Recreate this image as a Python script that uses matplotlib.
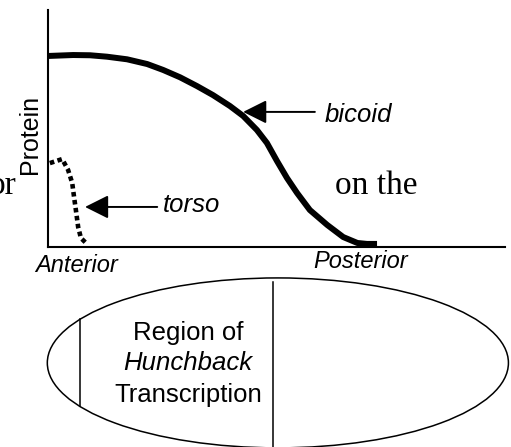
import matplotlib
matplotlib.use("Agg")
import matplotlib.pyplot as plt
import numpy as np
from matplotlib.patches import Ellipse

plt.rcParams['font.family'] = ['Liberation Sans', 'DejaVu Sans']

# position along the egg (% egg length, anterior = 0) and protein level (a.u.)
bicoid_x = [0.0, 5.5, 9.2, 12.9, 17.3, 21.7, 25.2, 28.9, 32.6, 36.1, 39.8, 42.7,
            45.7, 47.9, 50.1, 52.3, 54.5, 57.3, 61.1, 64.6, 67.7, 69.8, 72.0]
bicoid_y = [80.6, 81.0, 80.9, 80.3, 79.2, 77.2, 74.7, 71.6, 67.9, 64.1, 59.5, 55.3,
            49.4, 43.9, 36.3, 29.1, 22.8, 15.6, 9.3, 4.2, 1.7, 1.3, 1.3]

torso_x = [0.4, 3.1, 4.4, 5.3, 5.7, 6.1, 6.6, 7.2, 8.3]
torso_y = [35.4, 37.1, 32.5, 27.0, 21.1, 15.6, 8.4, 3.8, 1.7]

# hunchback transcription region (% egg length)
hb_region = [7.0, 49.2]

fig = plt.figure(figsize=(5.11, 4.47), dpi=100)
ax = fig.add_axes([48/511, 1-247/447, 457/511, 237/447])
ax.set_xlim(0, 100)
ax.set_ylim(0, 100)
for s in ['top', 'right']:
    ax.spines[s].set_visible(False)
for s in ['left', 'bottom']:
    ax.spines[s].set_linewidth(1.5)
ax.set_xticks([])
ax.set_yticks([])

ax.plot(bicoid_x, bicoid_y, color='black', lw=4.3, solid_capstyle='butt',
        solid_joinstyle='round', clip_on=False)
ax.plot(torso_x, torso_y, color='black', lw=3.3, linestyle=(0, (1, 0.75)),
        dash_capstyle='butt', clip_on=False)

arrow = dict(arrowstyle='-|>,head_length=1.0,head_width=0.5', mutation_scale=14.4,
             color='black', lw=1.4, shrinkA=0, shrinkB=0)
ax.annotate('', xy=(42.7, 57), xytext=(58.4, 57), arrowprops=arrow)
ax.text(60.6, 55.5, 'bicoid', style='italic', fontsize=18.5, va='center', ha='left')
ax.annotate('', xy=(8.1, 16.9), xytext=(23.9, 16.9), arrowprops=arrow)
ax.text(25.2, 17.7, 'torso', style='italic', fontsize=18.5, va='center', ha='left')

ax.text(-3.9, 47.3, 'Protein', rotation=90, fontsize=18, ha='center', va='center')
ax.text(-2.8, -8.0, 'Anterior', style='italic', fontsize=17, ha='left', va='center',
        clip_on=False)
ax.text(58.0, -6.3, 'Posterior', style='italic', fontsize=17, ha='left', va='center',
        clip_on=False)

# leftover words from the surrounding page text
fig.text(16/511, 1-194/447, 'or', family='Liberation Serif', fontsize=24,
         ha='right', va='baseline')
fig.text(335/511, 1-194/447, 'on the', family='Liberation Serif', fontsize=24,
         ha='left', va='baseline')

# embryo
cx, cy, w, h = 50.3, -48.9, 100.9, 71.7
ax.add_patch(Ellipse((cx, cy), w, h, fill=False, edgecolor='black', lw=1.1,
                     clip_on=False))
half = (h/2) * np.sqrt(1 - ((hb_region[0]-cx)/(w/2))**2)
ax.plot([hb_region[0]]*2, [cy+half, cy-half], color='black', lw=1.1, clip_on=False)
ax.plot([hb_region[1]]*2, [-14.8, -95], color='black', lw=1.1, clip_on=False)

mid = (hb_region[0] + hb_region[1]) / 2 + 2.5
ax.text(mid, -36.3, 'Region of', fontsize=18.5, ha='center', va='center')
ax.text(mid, -48.9, 'Hunchback', style='italic', fontsize=18.5, ha='center', va='center')
ax.text(mid, -62.4, 'Transcription', fontsize=18.5, ha='center', va='center')

fig.savefig('out.png', dpi=100)
